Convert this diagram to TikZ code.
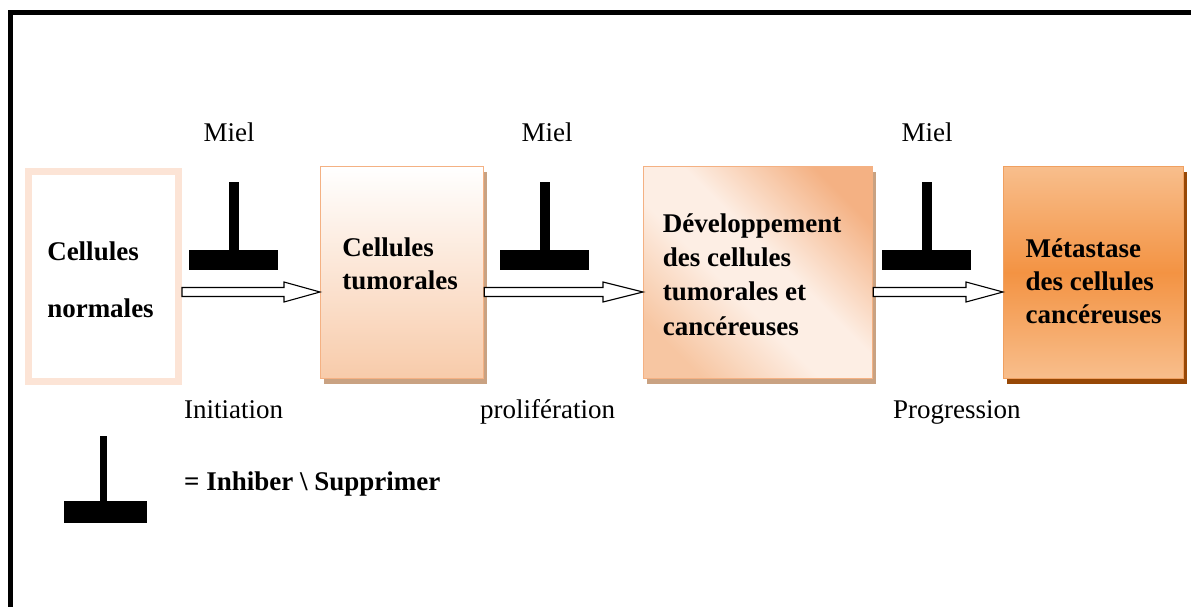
\documentclass[tikz,border=0pt]{standalone}
\usepackage{fontspec}
\setmainfont{Liberation Serif}
\usetikzlibrary{calc,shadows}
\definecolor{peachline}{HTML}{FCE4D6}
\definecolor{orline}{HTML}{F4B183}
\definecolor{lightband}{HTML}{FDEEE4}
\definecolor{blcorner}{HTML}{F7C6A2}
\definecolor{b2bottom}{HTML}{F8CBAA}
\definecolor{b4edge}{HTML}{F8BE8C}
\definecolor{b4mid}{HTML}{F39343}
\definecolor{b4line}{HTML}{F0A060}
\definecolor{tanshadow}{HTML}{C9A282}
\definecolor{brownshadow}{HTML}{974806}
\pgfdeclarehorizontalshading{diagband}{100bp}{color(0bp)=(blcorner); color(24bp)=(blcorner); color(43bp)=(lightband); color(55bp)=(lightband); color(76bp)=(orline); color(100bp)=(orline)}
\newcommand{\hollowarr}[3]{%
  \draw[harrow] (#1.east |- 0,287.5) -- ($(#2.west |- 0,287.5)+(-#3,0)$)
    -- ($(#2.west |- 0,282)+(-#3,0)$) -- (#2.west |- 0,292)
    -- ($(#2.west |- 0,302)+(-#3,0)$) -- ($(#2.west |- 0,296.5)+(-#3,0)$)
    -- (#1.east |- 0,296.5) -- cycle;}
\begin{document}
\begin{tikzpicture}[x=1pt,y=-1pt,
  lbl/.style={inner sep=0pt, anchor=base west, font=\fontsize{27}{33}\selectfont},
  miel/.style={inner sep=0pt, anchor=base, font=\fontsize{27}{33}\selectfont},
  boxtxt/.style={inner sep=0pt, align=left, font=\fontsize{27}{33}\selectfont\bfseries},
  boxbase/.style={rectangle, inner sep=0pt, anchor=north west},
  shad/.style={drop shadow={shadow xshift=3pt, shadow yshift=-5pt, fill=#1, opacity=1}},
  harrow/.style={draw=black, fill=white, line width=1.1pt, line join=miter},
  inhib/.pic={\fill[black] (-44.5,0) rectangle (44.5,20); \fill[black] (-5,0) rectangle (5,-68);}
]
\useasboundingbox (0,0) rectangle (1191,607);
\fill[white] (0,0) rectangle (1191,607);
% frame
\draw[line width=4.5pt] (10.5,607) -- (10.5,12.5) -- (1191,12.5);

% boxes
\node[boxbase, draw=peachline, line width=7pt, fill=white,
      minimum width=150pt, minimum height=210.5pt] (b1) at (25,167.5) {};
\node[boxbase, draw=orline, line width=1.2pt, top color=white, bottom color=b2bottom,
      shad=tanshadow, minimum width=163pt, minimum height=212pt] (b2) at (320,166) {};
\node[boxbase, draw=orline, line width=1.2pt,
      shade, shading=diagband, shading angle=45, shad=tanshadow,
      minimum width=229pt, minimum height=212pt] (b3) at (643,166) {};
\node[boxbase, draw=b4line, line width=1.2pt,
      top color=b4edge, bottom color=b4edge, middle color=b4mid,
      shad=brownshadow, minimum width=180pt, minimum height=212pt] (b4) at (1003,166) {};

% box texts
\node[boxtxt] (t1) at ([xshift=-3pt,yshift=-4pt]b1.center) {Cellules\\[24pt]normales};
\node[boxtxt] (t2) at ([xshift=-2pt,yshift=9pt]b2.center) {Cellules\\tumorales};
\node[boxtxt] (t3) at ([xshift=-6pt,yshift=-2pt]b3.center) {Développement\\[1.3pt]des cellules\\[1.3pt]tumorales et\\[1.3pt]cancéreuses};
\node[boxtxt] (t4) at ([xshift=0pt,yshift=-9pt]b4.center) {Métastase\\des cellules\\cancéreuses};

% arrows
\hollowarr{b1}{b2}{36}
\hollowarr{b2}{b3}{40}
\hollowarr{b3}{b4}{37}

% inhibition symbols
\pic at (233.5,250) {inhib};
\pic at (544.5,250) {inhib};
\pic at (926.5,250) {inhib};

% labels
\node[miel] (m1) at (229,142) {Miel};
\node[miel] (m2) at (547,142) {Miel};
\node[miel] (m3) at (927,142) {Miel};
\node[lbl] (l1) at (184,418) {Initiation};
\node[lbl] (l2) at (480,418) {prolifération};
\node[lbl] (l3) at (893,418) {Progression};

% legend
\fill[black] (64,501) rectangle (147,523);
\fill[black] (100,436) rectangle (107,501);
\node[lbl, font=\fontsize{27}{33}\selectfont\bfseries] (leg) at (184,490) {= Inhiber \textbackslash{} Supprimer};
\end{tikzpicture}
\end{document}
